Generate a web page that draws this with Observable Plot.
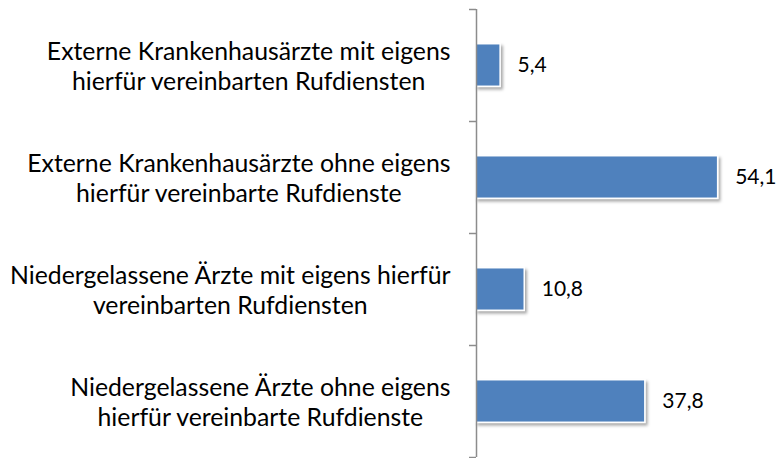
<!DOCTYPE html>
<html>
<head>
<meta charset="utf-8">
<script src="https://cdn.jsdelivr.net/npm/d3@7"></script>
<script src="https://cdn.jsdelivr.net/npm/@observablehq/plot@0.6"></script>
<style>
  html, body { margin: 0; padding: 0; background: #fff; }
  #chart svg { display: block; }
</style>
</head>
<body>
<div id="chart"></div>
<script>
const categories = [
  "Externe Krankenhausärzte mit eigens\nhierfür vereinbarten Rufdiensten",
  "Externe Krankenhausärzte ohne eigens\nhierfür vereinbarte Rufdienste",
  "Niedergelassene Ärzte mit eigens hierfür\nvereinbarten Rufdiensten",
  "Niedergelassene Ärzte ohne eigens\nhierfür vereinbarte Rufdienste"
];
const values = [5.4, 54.1, 10.8, 37.8];
const yTicks = [0, 1, 2, 3, 4];

const data = categories.map((c, i) => ({category: c, value: values[i], i}));
const fmt = v => v.toFixed(1).replace(".", ",");

const chart = Plot.plot({
  width: 779,
  height: 458,
  marginLeft: 476,
  marginRight: 35,
  marginTop: 9,
  marginBottom: 1,
  style: {fontFamily: "Lato, sans-serif", background: "#fff"},
  x: {domain: [0, 60], axis: null},
  y: {domain: [0, 4], reverse: true, axis: null},
  marks: [
    Plot.rectX(data, {
      x1: 0, x2: "value",
      y1: d => d.i + 0.31, y2: d => d.i + 0.69,
      fill: "#4f81bd", stroke: "#ffffff", strokeWidth: 1.5,
      className: "bars"
    }),
    Plot.ruleX([0], {stroke: "#8c8c8c", strokeWidth: 1.5}),
    Plot.axisY({ticks: yTicks, tickFormat: () => "", tickSize: 7, stroke: "#8c8c8c", strokeWidth: 1.5, strokeOpacity: 1}),
    Plot.text(data, {
      x: "value", y: d => d.i + 0.5, text: d => fmt(d.value),
      textAnchor: "start", dx: 17, fontSize: 21, fill: "#000"
    }),
    Plot.text(data, {
      frameAnchor: "left", y: d => d.i + 0.5, text: "category",
      textAnchor: "middle", dx: -26, fontSize: 24.8, lineHeight: 1.18, fill: "#000",
      className: "cats"
    })
  ]
});

// subtle drop shadow on bars
const svg = d3.select(chart);
const defs = svg.insert("defs", ":first-child");
const f = defs.append("filter").attr("id", "shadow").attr("x", "-10%").attr("y", "-20%").attr("width", "130%").attr("height", "150%");
f.append("feDropShadow").attr("dx", 2).attr("dy", 2.5).attr("stdDeviation", 1.8).attr("flood-color", "#000").attr("flood-opacity", 0.35);
svg.selectAll("g.bars").attr("filter", "url(#shadow)");

document.getElementById("chart").appendChild(chart);

// Category label blocks: lines centred within each block, block right-aligned next to the axis
svg.selectAll("g.cats text").each(function () {
  const bb = this.getBBox();
  const shift = -(bb.x + bb.width); // move right edge to the anchor point
  const t = this.getAttribute("transform") || "";
  this.setAttribute("transform", t + ` translate(${shift},0)`);
});
</script>
</body>
</html>
